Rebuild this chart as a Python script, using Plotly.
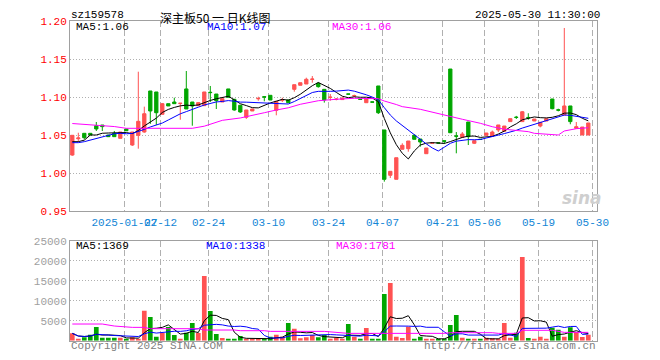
import plotly.graph_objects as go
import pandas as pd

# ---------------- data ----------------
opens = [1.024, 1.0455, 1.0526, 1.0526, 1.0626, 1.0635, 1.0504, 1.0526, 1.046, 1.0583,
         1.0372, 1.050, 1.0543, 1.1083, 1.107, 1.0776, 1.0916, 1.0938, 1.0918, 1.111,
         1.0938, 1.089, 1.089, 1.1066, 1.1043, 1.0938, 1.111, 1.0974, 1.0895, 1.0737,
         1.082, 1.098, 1.1008, 1.1026, 1.0829, 1.0962, 1.0965, 1.1105, 1.1158, 1.1175,
         1.1235, 1.1184, 1.1105, 1.0998, 1.0972, 1.097, 1.1045, 1.1018, 1.0976, 1.0929,
         1.094, 1.1149, 1.057, 0.9974, 0.9921, 1.0316, 1.0324, 1.050, 1.0451, 1.0258,
         1.0396, 1.0402, 1.0428, 1.1372, 1.0492, 1.0474, 1.0675, 1.0395, 1.0449, 1.050,
         1.049, 1.057, 1.0553, 1.068, 1.0739, 1.068, 1.0735, 1.0688, 1.0622, 1.0688,
         1.0978, 1.0835, 1.0767, 1.0886, 1.0592, 1.0504, 1.0504]
highs = [1.050, 1.0534, 1.0526, 1.0526, 1.0675, 1.0635, 1.0504, 1.0557, 1.0543, 1.0583,
         1.0543, 1.1337, 1.0877, 1.1083, 1.107, 1.0925, 1.0916, 1.0995, 1.0925, 1.1346,
         1.0938, 1.093, 1.107, 1.1149, 1.1043, 1.0982, 1.111, 1.0974, 1.0895, 1.0833,
         1.0846, 1.1008, 1.1008, 1.1026, 1.0947, 1.0995, 1.0965, 1.1166, 1.1192, 1.1258,
         1.128, 1.1197, 1.1105, 1.1043, 1.099, 1.100, 1.1045, 1.1035, 1.0976, 1.0982,
         1.094, 1.1149, 1.057, 1.0026, 1.0205, 1.0395, 1.0425, 1.0513, 1.0451, 1.0333,
         1.0402, 1.0404, 1.0428, 1.1372, 1.0543, 1.0543, 1.0675, 1.0429, 1.0449, 1.053,
         1.0562, 1.0636, 1.0622, 1.0719, 1.0755, 1.082, 1.079, 1.0714, 1.0671, 1.0719,
         1.0978, 1.085, 1.1912, 1.0886, 1.0675, 1.0609, 1.0662]
lows = [1.023, 1.0416, 1.0447, 1.0504, 1.0557, 1.0557, 1.0482, 1.0482, 1.046, 1.056,
        1.036, 1.0324, 1.0534, 1.065, 1.0636, 1.0776, 1.0886, 1.0916, 1.0705, 1.0846,
        1.0626, 1.089, 1.089, 1.0938, 1.0846, 1.0938, 1.100, 1.0825, 1.0795, 1.0715,
        1.082, 1.0955, 1.0947, 1.0964, 1.0763, 1.0938, 1.0929, 1.1074, 1.1158, 1.1175,
        1.1192, 1.1127, 1.093, 1.0955, 1.096, 1.097, 1.1041, 1.1005, 1.0972, 1.0929,
        1.0936, 1.078, 0.989, 0.9938, 0.9921, 1.0316, 1.0284, 1.0447, 1.035, 1.0258,
        1.0394, 1.0396, 1.0385, 1.0534, 1.0263, 1.0474, 1.0372, 1.0385, 1.0445, 1.050,
        1.049, 1.0543, 1.0553, 1.068, 1.0715, 1.068, 1.0705, 1.0688, 1.0605, 1.0688,
        1.0842, 1.0815, 1.0767, 1.0645, 1.0592, 1.0504, 1.0504]
closes = [1.050, 1.0465, 1.0468, 1.0504, 1.0583, 1.0614, 1.0482, 1.0482, 1.0543, 1.056,
          1.0543, 1.0684, 1.0784, 1.082, 1.0797, 1.0916, 1.0886, 1.0916, 1.0922, 1.0846,
          1.0885, 1.093, 1.107, 1.1062, 1.0956, 1.0982, 1.100, 1.0833, 1.0807, 1.0833,
          1.0846, 1.0985, 1.1003, 1.0964, 1.0947, 1.0967, 1.0929, 1.1166, 1.1192, 1.1237,
          1.124, 1.114, 1.0965, 1.1002, 1.0976, 1.099, 1.1041, 1.1022, 1.0972, 1.0982,
          1.0936, 1.0797, 0.9921, 1.0026, 1.0205, 1.0368, 1.0425, 1.0447, 1.0412, 1.0333,
          1.040, 1.0398, 1.0422, 1.0534, 1.0488, 1.0517, 1.0482, 1.0429, 1.0445, 1.053,
          1.0543, 1.0636, 1.0622, 1.0719, 1.0735, 1.081, 1.073, 1.0714, 1.0671, 1.0719,
          1.085, 1.0831, 1.0886, 1.068, 1.0613, 1.0609, 1.0662]
volumes = [1833, 500, 833, 1500, 3417, 750, 750, 750, 750, 500,
           833, 333, 7500, 5917, 1000, 1917, 3417, 1417, 500, 2000,
           4417, 1917, 16167, 7417, 1667, 667, 417, 417, 1167, 333,
           333, 333, 500, 1000, 1500, 1000, 4417, 3000, 583, 833,
           1417, 833, 1417, 333, 750, 333, 4167, 1000, 333, 3167,
           333, 333, 11667, 14417, 1000, 667, 3500, 333, 1000, 333,
           333, 333, 333, 3917, 6417, 750, 333, 333, 333, 750,
           583, 333, 4417, 750, 2000, 20917, 667, 333, 1000, 333,
           3250, 2750, 1000, 3333, 2167, 917, 1500]

# moving-average values read from the chart where the history is not in view
ma5_head = [1.0416, 1.0416, 1.0436, 1.0504]
ma10_head = [1.0403, 1.0403, 1.0416, 1.0436, 1.046, 1.0482, 1.050, 1.052, 1.0526]
ma30_idx = [0, 4, 7, 9, 14, 20, 22, 23, 25, 28, 30, 32, 34, 36, 38, 41, 44, 47, 51, 52,
            54, 55, 58, 61, 63, 65, 68, 70, 72, 76, 77, 80, 81, 82, 84, 86]
ma30_val = [1.0655, 1.0636, 1.0615, 1.0592, 1.0590, 1.0592, 1.062, 1.0645, 1.0697, 1.0728,
            1.0767, 1.0797, 1.0833, 1.0862, 1.0908, 1.0955, 1.0974, 1.0987, 1.0982, 1.0951,
            1.0905, 1.0877, 1.0842, 1.079, 1.0754, 1.0711, 1.0658, 1.0613, 1.058, 1.0548,
            1.0526, 1.0504, 1.0504, 1.0557, 1.0587, 1.060]
vol_ma30_idx = [0, 5, 7, 10, 12, 13, 21, 22, 27, 28, 32, 33, 42, 44, 46, 62, 63, 70, 71,
                74, 75, 80, 82, 86]
vol_ma30_val = [4167, 4167, 3667, 3333, 3333, 3000, 3000, 2667, 2667, 2500, 2500, 2333,
                2333, 2000, 1833, 1833, 2000, 2000, 1833, 1833, 2600, 2600, 2083, 2083]

tick_idx = [9, 15, 23, 33, 43, 52, 62, 69, 78, 87]
tick_labels = ["2025-01-27", "02-12", "02-24", "03-10", "03-24", "04-07",
               "04-21", "05-06", "05-19", "05-30"]
price_ticks = [0.95, 1.00, 1.05, 1.10, 1.15, 1.20]
vol_ticks = [0, 5000, 10000, 15000, 20000, 25000]

# ---------------- derived ----------------
n = len(closes)
idx = list(range(n))
cs = pd.Series(closes)
ma5 = cs.rolling(5).mean().tolist()
ma10 = cs.rolling(10).mean().tolist()
ma5[:len(ma5_head)] = ma5_head
ma10[:len(ma10_head)] = ma10_head
vs = pd.Series(volumes, dtype=float)
vma5 = vs.rolling(5, min_periods=1).mean().tolist()
vma10 = vs.rolling(10, min_periods=1).mean().tolist()

RED = "#ff5252"
GREEN = "#00a600"
GRID = "#b0b0b0"
BORDER = "#a0a0a0"
MONO = "Liberation Mono"
bar_colors = [RED if c >= o else GREEN for o, c in zip(opens, closes)]
tick_pos = [t - 0.3 for t in tick_idx]

W, H = 660, 360
OFF = 8  # the page body adds an 8px margin around the figure
def px(x):
    return (x - OFF) / W
def py(y):
    return 1 - (y - OFF) / H

fig = go.Figure()
fig.add_trace(go.Candlestick(
    x=idx, open=opens, high=highs, low=lows, close=closes,
    increasing=dict(line=dict(color=RED, width=1), fillcolor=RED),
    decreasing=dict(line=dict(color=GREEN, width=1), fillcolor=GREEN),
    whiskerwidth=0, xaxis="x", yaxis="y", hoverinfo="skip", showlegend=False))
fig.add_trace(go.Scatter(x=idx, y=ma5, mode="lines", line=dict(color="black", width=1),
                         xaxis="x", yaxis="y", hoverinfo="skip"))
fig.add_trace(go.Scatter(x=idx, y=ma10, mode="lines", line=dict(color="#0000ff", width=1),
                         xaxis="x", yaxis="y", hoverinfo="skip"))
fig.add_trace(go.Scatter(x=ma30_idx, y=ma30_val, mode="lines", line=dict(color="#ff00ff", width=1),
                         xaxis="x", yaxis="y", hoverinfo="skip"))

fig.add_trace(go.Bar(x=idx, y=volumes, marker=dict(color=bar_colors, line=dict(width=0)),
                     width=0.78, xaxis="x2", yaxis="y2", hoverinfo="skip"))
fig.add_trace(go.Scatter(x=idx, y=vma5, mode="lines", line=dict(color="black", width=1),
                         xaxis="x2", yaxis="y2", hoverinfo="skip"))
fig.add_trace(go.Scatter(x=idx, y=vma10, mode="lines", line=dict(color="#0000ff", width=1),
                         xaxis="x2", yaxis="y2", hoverinfo="skip"))
fig.add_trace(go.Scatter(x=vol_ma30_idx, y=vol_ma30_val, mode="lines",
                         line=dict(color="#ff00ff", width=1),
                         xaxis="x2", yaxis="y2", hoverinfo="skip"))

xdom = [px(70), px(597)]
xr = [(70 - 72.3) / 6, (597 - 72.3) / 6]
common_x = dict(domain=xdom, range=xr, tickmode="array", tickvals=tick_pos,
                showgrid=True, gridcolor=GRID, griddash="6px,3px", gridwidth=1,
                showline=True, mirror=True, linecolor=BORDER, linewidth=1,
                zeroline=False, ticks="", fixedrange=True, automargin=False,
                tickangle=0)

fig.update_layout(
    width=W, height=H, margin=dict(l=0, r=0, t=0, b=0, autoexpand=False),
    paper_bgcolor="white", plot_bgcolor="white", showlegend=False,
    boxgap=0.22, bargap=0.22,
    xaxis=dict(**common_x, anchor="y", ticktext=tick_labels,
               tickfont=dict(family=MONO, size=11, color="#1386d6"),
               rangeslider=dict(visible=False)),
    yaxis=dict(domain=[py(211.3), py(21.3)], range=[0.95, 1.20], tickmode="array",
               tickvals=price_ticks, ticktext=["%.2f" % v for v in price_ticks],
               tickfont=dict(family=MONO, size=11, color="#ff0000"),
               showgrid=True, gridcolor=GRID, griddash="1px,2px", gridwidth=1,
               showline=True, mirror=True, linecolor=BORDER, linewidth=1,
               zeroline=False, ticks="", anchor="x", fixedrange=True, automargin=False),
    xaxis2=dict(**common_x, anchor="y2", ticktext=tick_labels, showticklabels=False),
    yaxis2=dict(domain=[py(340.7), py(240.7)], range=[0, 25000], tickmode="array",
                tickvals=vol_ticks, ticktext=["" if v == 0 else str(v) for v in vol_ticks],
                tickfont=dict(family=MONO, size=11, color="#a0a0a0"),
                showgrid=True, gridcolor=GRID, griddash="1px,2px", gridwidth=1,
                showline=True, mirror=True, linecolor=BORDER, linewidth=1,
                zeroline=False, ticks="", anchor="x2", fixedrange=True, automargin=False),
)

def ann(text, x, y, color="black", size=11, family=MONO, xanchor="left",
        yanchor="middle", **kw):
    fig.add_annotation(text=text, x=px(x), y=py(y), xref="paper", yref="paper",
                       xanchor=xanchor, yanchor=yanchor, showarrow=False,
                       font=dict(family=family, size=size, color=color), **kw)

ann("sz159578", 70, 8, yanchor="top", borderpad=0)
ann("深主板50 一 日K线图", 215, 8, size=12, family="Noto Sans CJK SC",
    xanchor="center", yanchor="top", borderpad=0)
ann("2025-05-30 11:30:00", 601, 8, xanchor="right", yanchor="top", borderpad=0)
ann("MA5:1.06", 74, 27)
ann("MA10:1.07", 205, 27, color="#0000ff")
ann("MA30:1.06", 330, 27, color="#ff00ff")
ann("MA5:1369", 74, 246)
ann("MA10:1338", 204, 246, color="#0000ff")
ann("MA30:1781", 334, 246, color="#ff00ff")
ann("Copyright 2025 SINA.COM", 69, 346, color="#808080")
ann("http://finance.sina.com.cn", 598, 346, color="#808080", xanchor="right")
ann("<i><b>sina</b></i>", 582, 198, color="#cfcfcf", size=17, family="DejaVu Sans",
    xanchor="center")

fig.write_html("out.html")
